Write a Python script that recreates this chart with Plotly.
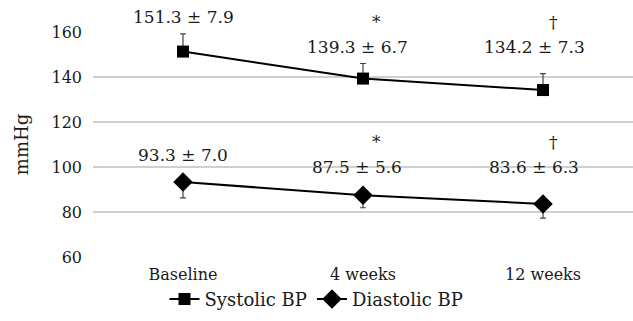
import plotly.graph_objects as go

categories = ["Baseline", "4 weeks", "12 weeks"]
systolic_mean = [151.3, 139.3, 134.2]
systolic_sd = [7.9, 6.7, 7.3]
diastolic_mean = [93.3, 87.5, 83.6]
diastolic_sd = [7.0, 5.6, 6.3]
significance = ["", "*", "†"]
y_ticks = [60, 80, 100, 120, 140, 160]

FONT = "DejaVu Serif"
TXT = "#1a1a1a"

fig = go.Figure()
fig.add_trace(go.Scatter(
    x=categories, y=systolic_mean, name="Systolic BP", mode="lines+markers",
    line=dict(color="black", width=2),
    marker=dict(symbol="square", size=12, color="black"),
    error_y=dict(type="data", array=systolic_sd, arrayminus=[0]*3, symmetric=False,
                 color="#444", thickness=1.2, width=3),
    cliponaxis=False,
))
fig.add_trace(go.Scatter(
    x=categories, y=diastolic_mean, name="Diastolic BP", mode="lines+markers",
    line=dict(color="black", width=2),
    marker=dict(symbol="diamond", size=15, color="black"),
    error_y=dict(type="data", array=[0]*3, arrayminus=diastolic_sd, symmetric=False,
                 color="#444", thickness=1.2, width=3),
    cliponaxis=False,
))

anns = []
sys_shift = [(0, 35), (-6, 32), (-9, 43)]
dia_shift = [(0, 27), (-6, 28), (-9, 37)]
sig_xshift = [0, 13, 10]
for i, c in enumerate(categories):
    xs, ys = sys_shift[i]
    anns.append(dict(x=c, y=systolic_mean[i], xref="x", yref="y",
                     text=f"{systolic_mean[i]} ± {systolic_sd[i]}", showarrow=False,
                     xshift=xs, yshift=ys, font=dict(family=FONT, size=17, color=TXT)))
    xs, ys = dia_shift[i]
    anns.append(dict(x=c, y=diastolic_mean[i], xref="x", yref="y",
                     text=f"{diastolic_mean[i]} ± {diastolic_sd[i]}", showarrow=False,
                     xshift=xs, yshift=ys, font=dict(family=FONT, size=17, color=TXT)))
    if significance[i]:
        anns.append(dict(x=c, y=160, xref="x", yref="y", text=significance[i], showarrow=False,
                         xshift=sig_xshift[i], yshift=10, font=dict(family=FONT, size=17, color=TXT)))
        anns.append(dict(x=c, y=100, xref="x", yref="y", text=significance[i], showarrow=False,
                         xshift=sig_xshift[i], yshift=25, font=dict(family=FONT, size=17, color=TXT)))

fig.update_layout(
    width=633, height=321,
    margin=dict(l=93, r=0, t=32, b=64, autoexpand=False),
    plot_bgcolor="white", paper_bgcolor="white",
    font=dict(family=FONT, size=16, color=TXT),
    showlegend=True,
    legend=dict(orientation="h", x=0.5, xanchor="center", xref="container",
                y=0.01, yanchor="bottom", yref="container", bgcolor="rgba(0,0,0,0)",
                font=dict(family=FONT, size=18, color=TXT),
                itemwidth=30, tracegroupgap=0),
    annotations=anns,
    xaxis=dict(range=[-0.5, 2.5], showgrid=False, showline=False, ticks="", automargin=False,
               ticklabelstandoff=6,
               tickfont=dict(family=FONT, size=16, color=TXT)),
    yaxis=dict(range=[60, 160], tickvals=y_ticks, showgrid=True, gridcolor="#d0d0d0",
               gridwidth=1.5, zeroline=False, showline=False, ticks="", automargin=False,
               ticklabelstandoff=10,
               tickfont=dict(family=FONT, size=16, color=TXT),
               title=dict(text="mmHg", font=dict(family=FONT, size=18, color=TXT), standoff=18)),
)

fig.write_html("out.html", config={"displayModeBar": False},
               post_script="document.body.style.margin='0';")
